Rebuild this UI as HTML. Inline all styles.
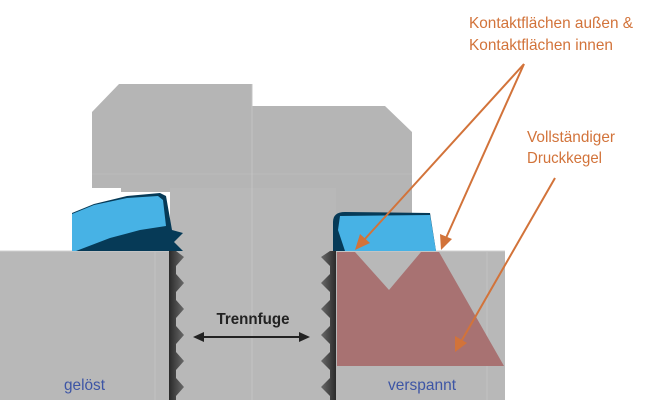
<!DOCTYPE html>
<html><head><meta charset="utf-8"><style>
html,body{margin:0;padding:0;background:#fff;width:645px;height:400px;overflow:hidden}
svg{display:block}
text{font-family:"Liberation Sans Narrow","Liberation Sans",sans-serif}
</style></head><body>
<svg width="645" height="400" viewBox="0 0 645 400" xmlns="http://www.w3.org/2000/svg">
<defs>
<linearGradient id="thl" x1="0" x2="1"><stop offset="0" stop-color="#2a2a2a"/><stop offset="1" stop-color="#6a6a6a"/></linearGradient>
<linearGradient id="thr" x1="1" x2="0"><stop offset="0" stop-color="#2a2a2a"/><stop offset="1" stop-color="#6a6a6a"/></linearGradient>
</defs>
<polygon points="92,112 119,84 252,84 252,106 385,106 412,132 412,230 252,230 170,230 170,192 121,192 121,188 92,188" fill="#b5b5b5"/>
<line x1="92" y1="174" x2="412" y2="174" stroke="#bababa" stroke-width="1"/>
<rect x="170" y="188" width="166" height="212" fill="#b8b8b8"/>
<line x1="252" y1="84" x2="252" y2="400" stroke="#c4c4c4"/>
<rect x="0" y="251" width="170" height="149" fill="#b8b8b8"/>
<rect x="336" y="251" width="169" height="149" fill="#b8b8b8"/>
<line x1="0" y1="251" x2="170" y2="251" stroke="#d0d0d0"/>
<line x1="336" y1="251" x2="505" y2="251" stroke="#d0d0d0"/>
<line x1="155" y1="252" x2="155" y2="400" stroke="#c2c2c2"/>
<line x1="487" y1="252" x2="487" y2="400" stroke="#c2c2c2"/>
<polygon points="169,251 176,251 184,257 176,266 176,274 184,283 176,292 176,300 184,309 176,318 176,326 184,335 176,344 176,352 184,361 176,370 176,378 184,387 176,396 176,400 169,400" fill="url(#thl)"/>
<polygon points="336,251 330,251 321,257 330,266 330,274 321,283 330,292 330,300 321,309 330,318 330,326 321,335 330,344 330,352 321,361 330,370 330,378 321,387 330,396 330,400 336,400" fill="url(#thr)"/>
<polygon points="337,252 355,252 389,290 421,252 439,252 504,366 337,366" fill="#a87272"/>
<polygon points="72,213 94,204 127,196 160,193 166,196 172,230 183,233 174,242 183,251 72,251" fill="#063a57"/>
<polygon points="72,214 94,205 127,198 158,196 163,200 166,226 140,230 110,238 76,251 72,251" fill="#47b2e5"/>
<path d="M333,251 L333,222 Q333,212 345,212 L430,213 L436,251 Z" fill="#063a57"/>
<polygon points="340,216 430,215 436,251 345,251 338,230" fill="#47b2e5"/>
<text x="253" y="324" font-size="16" font-weight="bold" fill="#222" text-anchor="middle" textLength="73" lengthAdjust="spacingAndGlyphs">Trennfuge</text>
<line x1="200" y1="337" x2="302" y2="337" stroke="#222" stroke-width="2"/>
<polygon points="193,337 204,332 204,342" fill="#222"/>
<polygon points="310,337 299,332 299,342" fill="#222"/>
<text x="64" y="390" font-size="16" fill="#3d55a5" textLength="41" lengthAdjust="spacingAndGlyphs">gelöst</text>
<text x="388" y="390" font-size="16" fill="#3d55a5" textLength="68" lengthAdjust="spacingAndGlyphs">verspannt</text>
<text x="469" y="28" font-size="16" fill="#d2733a" textLength="164" lengthAdjust="spacingAndGlyphs">Kontaktflächen außen &amp;</text>
<text x="469" y="50" font-size="16" fill="#d2733a" textLength="144" lengthAdjust="spacingAndGlyphs">Kontaktflächen innen</text>
<text x="527" y="142" font-size="16" fill="#d2733a" textLength="88" lengthAdjust="spacingAndGlyphs">Vollständiger</text>
<text x="527" y="163" font-size="16" fill="#d2733a" textLength="75" lengthAdjust="spacingAndGlyphs">Druckkegel</text>
<g stroke="#d2733a" stroke-width="2">
<line x1="524" y1="64" x2="364" y2="240"/>
<line x1="524" y1="64" x2="446" y2="238"/>
<line x1="555" y1="178" x2="462" y2="340"/>
</g>
<g fill="#d2733a">
<polygon points="355,250 360,234 370,243"/>
<polygon points="441,250 440,234 452,239"/>
<polygon points="455,352 455,336 467,343"/>
</g>
</svg>
</body></html>
